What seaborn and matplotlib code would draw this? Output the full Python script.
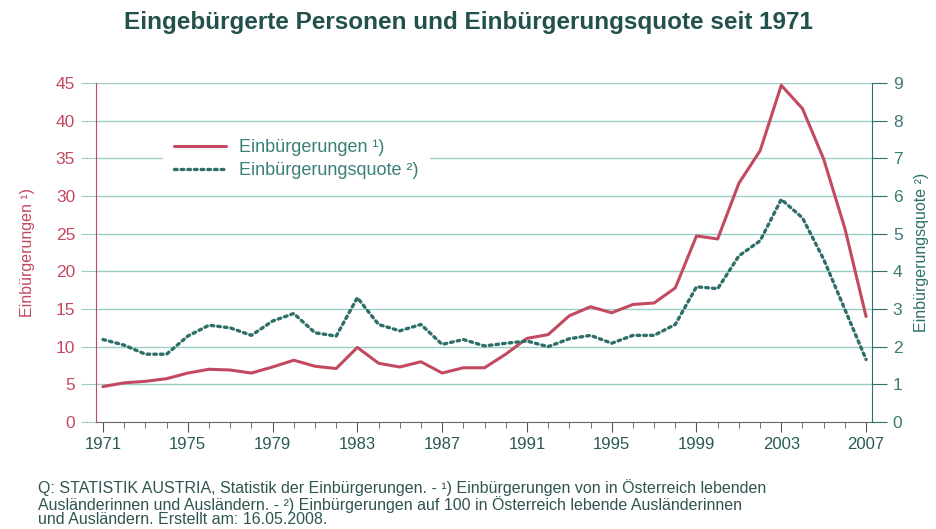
import pandas as pd
import matplotlib.pyplot as plt
import seaborn as sns

# Data
years = list(range(1971, 2008))
einbuergerungen = [4.7, 5.2, 5.4, 5.75, 6.5, 7.0, 6.9, 6.5, 7.3, 8.2,
                   7.4, 7.1, 9.9, 7.8, 7.3, 8.0, 6.5, 7.2, 7.2, 9.0,
                   11.1, 11.6, 14.1, 15.3, 14.5, 15.6, 15.8, 17.8, 24.7, 24.3,
                   31.7, 36.0, 44.7, 41.6, 34.9, 25.7, 14.0]
quote = [2.19, 2.04, 1.80, 1.80, 2.28, 2.57, 2.50, 2.30, 2.68, 2.88,
         2.37, 2.28, 3.30, 2.59, 2.42, 2.59, 2.06, 2.19, 2.02, 2.09,
         2.15, 2.00, 2.21, 2.30, 2.09, 2.30, 2.30, 2.59, 3.59, 3.54,
         4.41, 4.81, 5.91, 5.42, 4.32, 2.99, 1.66]
year_labels = list(range(1971, 2008, 4))
left_ticks = list(range(0, 50, 5))
right_ticks = list(range(0, 10))

df = pd.DataFrame({'year': years, 'einb': einbuergerungen, 'quote': quote})

red = '#c24a60'
teal = '#2f6f69'
grid_c = '#9ccdc8'
text_c = '#2a5a55'

sns.set_style('white')
plt.rcParams['font.family'] = ['Liberation Sans', 'DejaVu Sans']

fig = plt.figure(figsize=(9.36, 5.29), dpi=100)
ax = fig.add_axes([96 / 936, 1 - 422 / 529, 776 / 936, 339 / 529])
ax2 = ax.twinx()

sns.lineplot(data=df, x='year', y='einb', ax=ax, color=red, linewidth=2.2,
             label='Einbürgerungen ¹)', legend=False)
sns.lineplot(data=df, x='year', y='quote', ax=ax2, color=teal, linewidth=2.4,
             linestyle=(0, (0.8, 1.2)), dash_capstyle='round',
             label='Einbürgerungsquote ²)', legend=False)

ax.set_xlim(1970.67, 2007.28)
ax.set_ylim(0, 45)
ax2.set_ylim(0, 9)

ax.set_yticks(left_ticks)
ax2.set_yticks(right_ticks)
ax.set_xticks(years, minor=True)
ax.set_xticks(year_labels)
ax.set_xticklabels([str(y) for y in year_labels], fontsize=12, color=text_c)

for y in left_ticks[1:]:
    ax.axhline(y, color=grid_c, linewidth=1.0, zorder=0)

ax.tick_params(axis='y', which='major', length=11, color=grid_c, labelsize=12.5,
               labelcolor=red, direction='out', pad=4)
ax2.tick_params(axis='y', which='major', length=11, color=teal, labelsize=12.5,
                labelcolor='#3d7a75', direction='out', pad=4)
ax.tick_params(axis='x', which='major', length=7, color='#555555', pad=4,
               direction='out', bottom=True)
ax.tick_params(axis='x', which='minor', length=4, color='#555555',
               direction='out', bottom=True)

for a in (ax, ax2):
    a.spines['top'].set_visible(False)
ax.spines['left'].set_color(red)
ax.spines['right'].set_visible(False)
ax2.spines['left'].set_visible(False)
ax2.spines['bottom'].set_visible(False)
ax2.spines['right'].set_color(teal)
ax.spines['bottom'].set_color('#666666')

ax.set_xlabel('')
ax.set_ylabel('Einbürgerungen ¹)', color=red, fontsize=11.5, labelpad=15)
ax2.set_ylabel('Einbürgerungsquote ²)', color=teal, fontsize=11.5,
               rotation=90, labelpad=8)

h1, l1 = ax.get_legend_handles_labels()
h2, l2 = ax2.get_legend_handles_labels()
leg = ax2.legend(h1 + h2, l1 + l2, loc='upper left',
                 bbox_to_anchor=(163 / 936, 1 - 128 / 529),
                 bbox_transform=fig.transFigure, fontsize=13, frameon=True,
                 handlelength=2.9, labelspacing=0.35, borderpad=0.6,
                 handletextpad=0.7, borderaxespad=0)
leg.get_frame().set_facecolor('white')
leg.get_frame().set_edgecolor('white')
leg.get_frame().set_alpha(1)
for t in leg.get_texts():
    t.set_color('#3a7f78')

fig.text(0.5, 1 - 22 / 529, 'Eingebürgerte Personen und Einbürgerungsquote seit 1971',
         ha='center', va='center', fontsize=17.5, fontweight='bold', color='#22504c')

foot = ('Q: STATISTIK AUSTRIA, Statistik der Einbürgerungen. - ¹) Einbürgerungen von in Österreich lebenden\n'
        'Ausländerinnen und Ausländern. - ²) Einbürgerungen auf 100 in Österreich lebende Ausländerinnen\n'
        'und Ausländern. Erstellt am: 16.05.2008.')
fig.text(38 / 936, 1 - 479 / 529, foot, ha='left', va='top', fontsize=11.5,
         color='#2f5551', linespacing=0.98)

plt.savefig('out.png', dpi=100)
